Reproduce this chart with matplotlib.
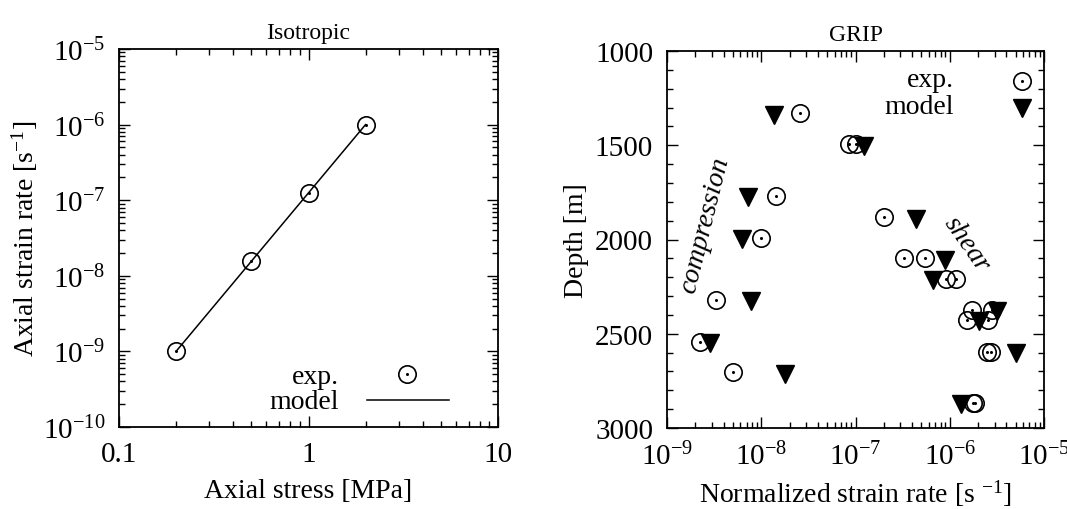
import numpy as np
import matplotlib
matplotlib.use("Agg")
import matplotlib.pyplot as plt
from matplotlib.ticker import LogLocator, MultipleLocator, LogFormatterMathtext, FixedLocator, FixedFormatter

plt.rcParams["font.family"] = ["Liberation Serif", "DejaVu Serif"]
plt.rcParams["mathtext.fontset"] = "custom"
plt.rcParams["mathtext.rm"] = "Liberation Serif"
plt.rcParams["mathtext.it"] = "Liberation Serif:italic"
plt.rcParams["axes.linewidth"] = 1.3

# =========================
# Data
# =========================
# Isotropic
iso_stress = [0.2, 0.5, 1.0, 2.0]
iso_rate = [1.0e-9, 1.56e-8, 1.25e-7, 1.0e-6]
model_stress = [0.2, 2.0]
model_rate = [1.0e-9, 1.0e-6]

# GRIP
exp_rate = [2.6e-8, 8.6e-8, 1.02e-7, 1.43e-8, 2.0e-7, 9.9e-9,
            3.3e-7, 5.4e-7, 9.2e-7, 1.17e-6, 3.3e-9, 1.74e-6, 2.83e-6,
            1.51e-6, 2.57e-6, 2.26e-9, 2.47e-6, 2.72e-6, 5.0e-9, 1.76e-6, 1.86e-6]
exp_depth = [1330, 1495, 1495, 1770, 1880, 1990,
             2100, 2100, 2210, 2210, 2320, 2375, 2375,
             2428, 2428, 2542, 2595, 2595, 2703, 2869, 2869]
mod_rate = [1.35e-8, 1.22e-7, 7.2e-9, 4.4e-7, 6.3e-9, 8.8e-7, 6.7e-7,
            7.8e-9, 3.15e-6, 2.06e-6, 2.88e-9, 5.05e-6, 1.8e-8, 1.31e-6]
mod_depth = [1337, 1503, 1773, 1892, 1998, 2110, 2213,
             2327, 2380, 2433, 2551, 2601, 2712, 2874]

FS = 20
TICK_FS = 21
W, H = 1067, 510


def style_axes(ax):
    ax.tick_params(which="both", direction="in", top=True, right=True,
                   labelsize=TICK_FS, width=1.0)
    ax.tick_params(which="major", length=8, pad=10)
    ax.tick_params(which="minor", length=4)


def open_circle(ax, x, y):
    ax.plot(x, y, linestyle="none", marker="o", markersize=12.5,
            markerfacecolor="none", markeredgecolor="black",
            markeredgewidth=1.2)
    ax.plot(x, y, linestyle="none", marker="o", markersize=1.2,
            markerfacecolor="black", markeredgecolor="black")


fig = plt.figure(figsize=(W / 100, H / 100), dpi=100)

# =========================
# Left panel: Isotropic
# =========================
ax1 = fig.add_axes([119 / W, 1 - 428 / H, (498 - 119) / W, (428 - 50) / H])
ax1.set_xscale("log")
ax1.set_yscale("log")
ax1.set_xlim(0.1, 10)
ax1.set_ylim(1e-10, 1e-5)
ax1.plot(model_stress, model_rate, color="black", linewidth=1.1)
open_circle(ax1, iso_stress, iso_rate)
ax1.xaxis.set_major_locator(FixedLocator([0.1, 1, 10]))
ax1.xaxis.set_major_formatter(FixedFormatter(["0.1", "1", "10"]))
ax1.xaxis.set_minor_locator(LogLocator(base=10, subs=np.arange(2, 10), numticks=20))
ax1.yaxis.set_major_locator(LogLocator(base=10, numticks=20))
ax1.yaxis.set_major_formatter(LogFormatterMathtext())
ax1.yaxis.set_minor_locator(LogLocator(base=10, subs=np.arange(2, 10), numticks=20))
ax1.xaxis.set_minor_formatter(plt.NullFormatter())
ax1.yaxis.set_minor_formatter(plt.NullFormatter())
style_axes(ax1)
ax1.set_xlabel("Axial stress [MPa]", fontsize=FS, labelpad=8)
ax1.set_ylabel("Axial strain rate [s$^{-1}$]", fontsize=FS, labelpad=2)
ax1.set_title("Isotropic", fontsize=FS - 3, pad=8)

# legend drawn as in the source plot: text right, sample left
ax1.text(0.58, 0.133, "exp.", transform=ax1.transAxes, ha="right", va="center", fontsize=FS)
ax1.text(0.58, 0.067, "model", transform=ax1.transAxes, ha="right", va="center", fontsize=FS)
open_circle(ax1, [10 ** (-1 + 2 * 0.76)], [10 ** (-10 + 5 * 0.14)])
ax1.plot([10 ** (-1 + 2 * 0.655), 10 ** (-1 + 2 * 0.87)],
         [10 ** (-10 + 5 * 0.072)] * 2, color="black", linewidth=1.1)

# =========================
# Right panel: GRIP
# =========================
ax2 = fig.add_axes([667 / W, 1 - 429 / H, (1044 - 667) / W, (429 - 52) / H])
ax2.set_xscale("log")
ax2.set_xlim(1e-9, 1e-5)
ax2.set_ylim(3000, 1000)
ax2.plot(mod_rate, mod_depth, linestyle="none", marker="v", markersize=13,
         color="black")
open_circle(ax2, exp_rate, exp_depth)
ax2.xaxis.set_major_locator(LogLocator(base=10, numticks=20))
ax2.xaxis.set_major_formatter(LogFormatterMathtext())
ax2.xaxis.set_minor_locator(LogLocator(base=10, subs=np.arange(2, 10), numticks=20))
ax2.xaxis.set_minor_formatter(plt.NullFormatter())
ax2.yaxis.set_major_locator(MultipleLocator(500))
ax2.yaxis.set_minor_locator(MultipleLocator(100))
style_axes(ax2)
ax2.set_xlabel("Normalized strain rate [s $^{-1}$]", fontsize=FS, labelpad=5)
ax2.set_ylabel("Depth [m]", fontsize=FS, labelpad=4)
ax2.set_title("GRIP", fontsize=FS - 3, pad=8)

ax2.text(0.76, 0.925, "exp.", transform=ax2.transAxes, ha="right", va="center", fontsize=FS)
ax2.text(0.76, 0.852, "model", transform=ax2.transAxes, ha="right", va="center", fontsize=FS)
open_circle(ax2, [5.8e-6], [1160])
ax2.plot([5.8e-6], [1300], linestyle="none", marker="v", markersize=13, color="black")

ax2.text(2.55e-9, 1920, "compression", rotation=76, style="italic",
         ha="center", va="center", fontsize=FS)
ax2.text(1.5e-6, 2020, "shear", rotation=-55, style="italic",
         ha="center", va="center", fontsize=FS)

fig.savefig("out.png", dpi=100)
